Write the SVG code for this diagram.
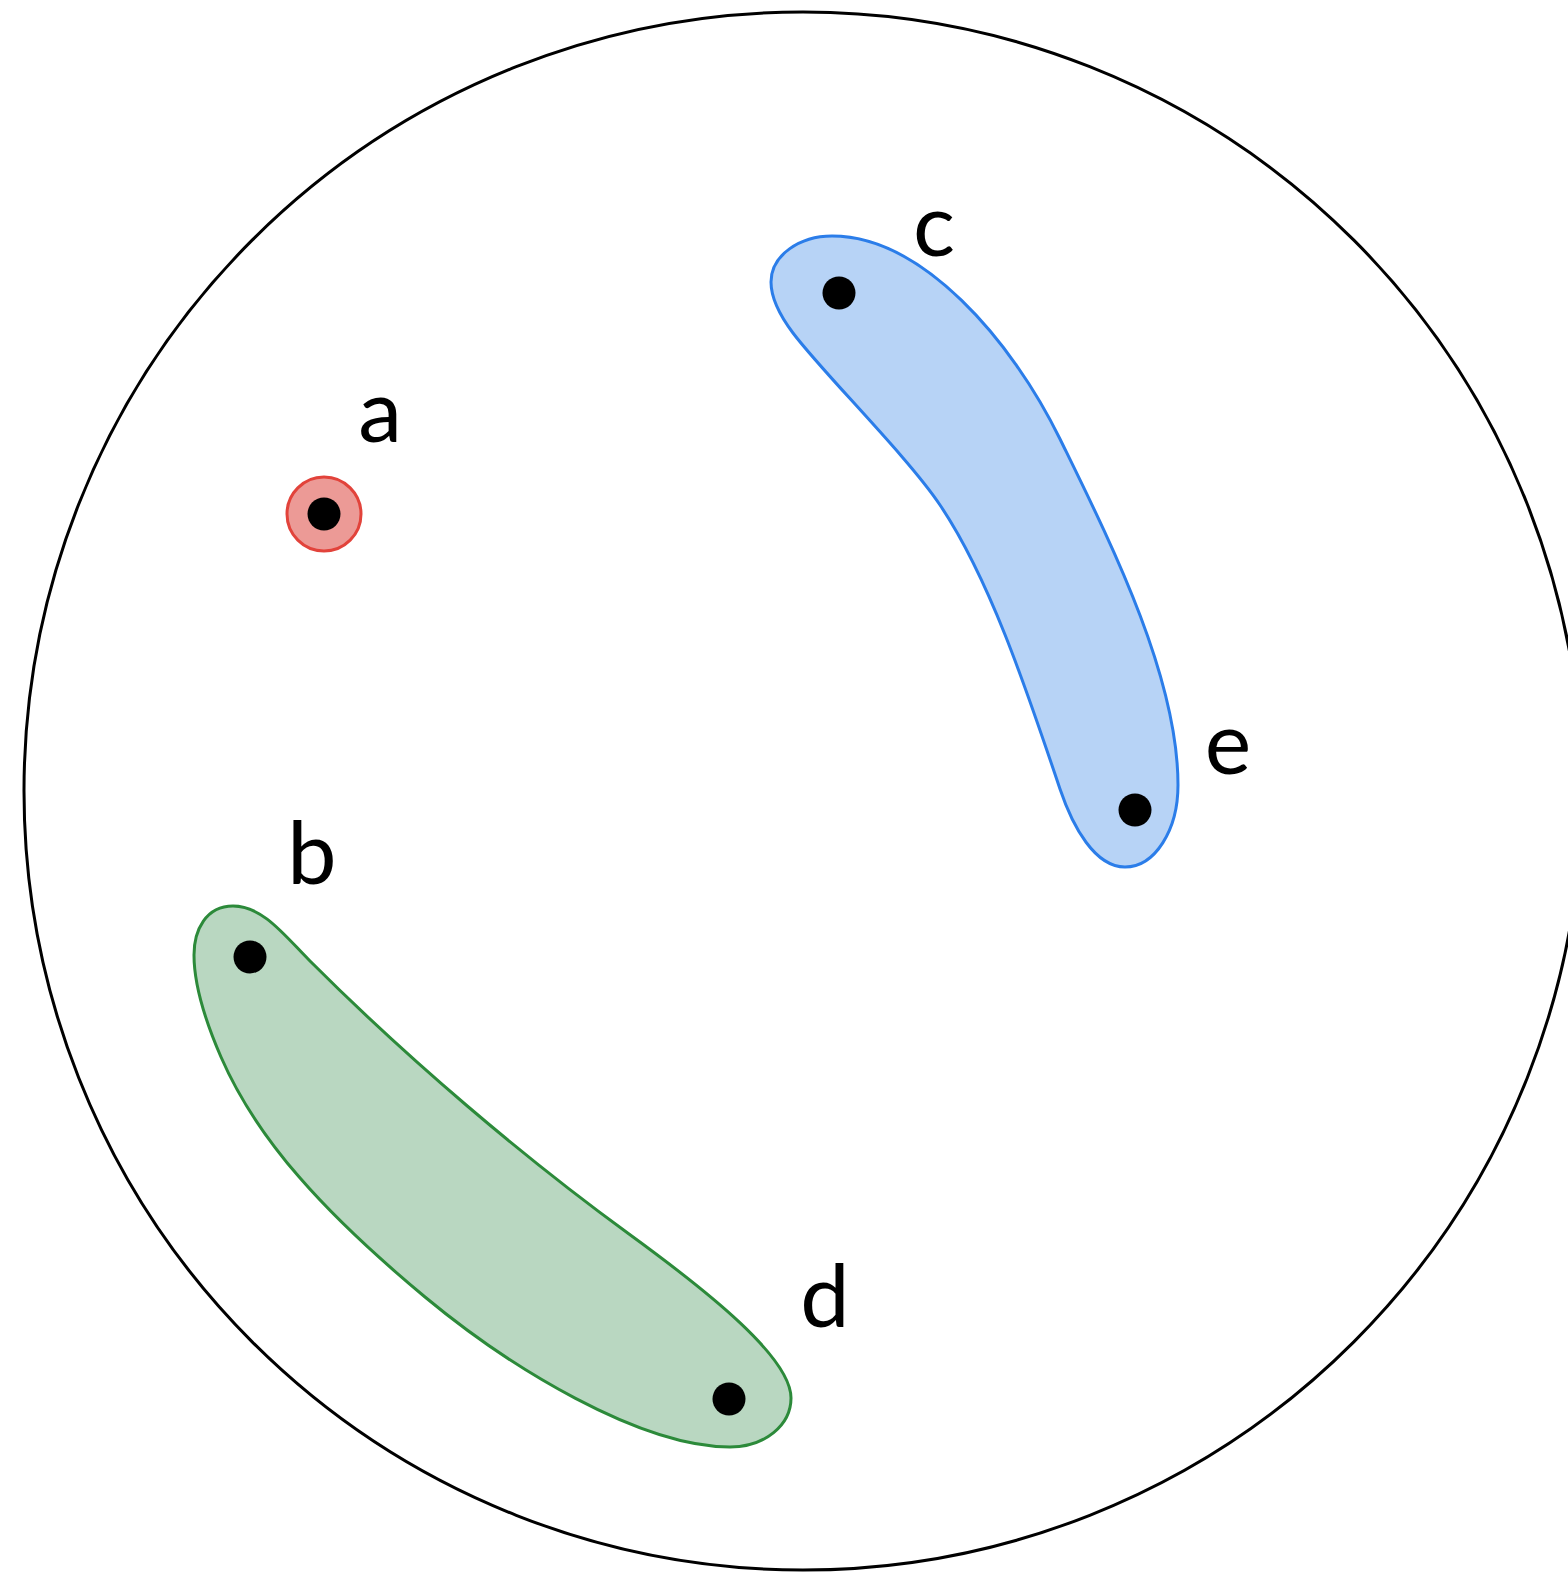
<svg xmlns="http://www.w3.org/2000/svg" width="1568" height="1576" viewBox="0 0 1568 1576">
<style>
.lbl{font-family:Lato,"Open Sans","Liberation Sans",sans-serif;font-size:88px;fill:#000;text-anchor:middle}
.dot{fill:#000}
.set{stroke-width:3}
</style>
<rect width="1568" height="1576" fill="#fff"/>
<g id="universe">
<circle cx="803" cy="791" r="779" fill="none" stroke="#000" stroke-width="3"/>
</g>
<g id="set-a">
<circle class="set" cx="324" cy="514" r="37" fill="#ec9a96" stroke="#e2433b"/>
</g>
<g id="set-ce">
<path class="set" d="M 771,282 C 771,255 800,236 832,236 C 922,236 1011.6,340 1060,439 C 1108.4,538 1178,675 1178,785 C 1178,830 1155,867 1125,867 C 1095,867 1072.8,827 1060,789 C 1028,694 990.4,579.7 940,505 C 906.4,455.2 823,373 793,333 C 778,313 771,297 771,282 Z" fill="#b7d3f6" stroke="#2b7de9"/>
</g>
<g id="set-bd">
<path class="set" d="M 233,906 C 263,906 285,936 310,961 C 409.4,1060.4 523.7,1157.3 629,1234 C 710,1293 791,1358 791,1398 C 791,1425 765,1447 730,1447 C 640,1447 509.7,1367.4 425,1297 C 324.9,1213.8 257,1139.8 221,1057 C 205,1020.2 194,985 194,955 C 194,930 206,906 233,906 Z" fill="#b9d7c1" stroke="#2c8a3a"/>
</g>
<g id="node-a"><circle class="dot" cx="324" cy="514" r="16.5"/><text class="lbl" x="380" y="442">a</text></g>
<g id="node-b"><circle class="dot" cx="250" cy="957" r="16.5"/><text class="lbl" x="312" y="884">b</text></g>
<g id="node-c"><circle class="dot" cx="839" cy="293" r="16.5"/><text class="lbl" x="934" y="256">c</text></g>
<g id="node-d"><circle class="dot" cx="729" cy="1399" r="16.5"/><text class="lbl" x="825" y="1327">d</text></g>
<g id="node-e"><circle class="dot" cx="1135" cy="810" r="16.5"/><text class="lbl" x="1228" y="774">e</text></g>
<g id="connectors"/>
</svg>
